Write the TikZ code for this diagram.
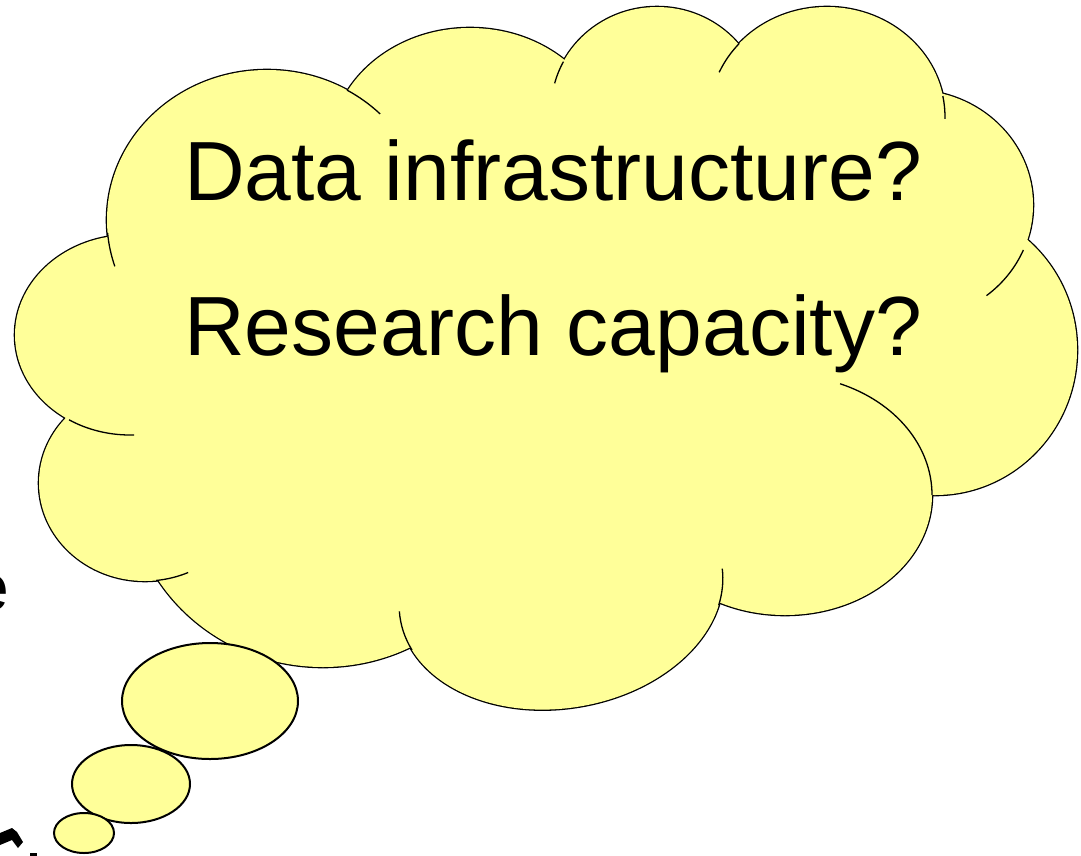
\documentclass[tikz,border=0pt]{standalone}
\usepackage{fontspec}
\setmainfont{Liberation Sans}
\definecolor{cloudyellow}{HTML}{FFFF99}
\tikzset{
  lobeedge/.style={draw=black, line width=2.6pt},
  lobefill/.style={fill=cloudyellow},
  crease/.style={draw=black, line width=1.3pt},
  bubble/.style={fill=cloudyellow, draw=black, line width=2pt},
  caption/.style={anchor=base west, inner sep=0pt, font=\fontsize{84}{100}\selectfont},
  fragtext/.style={anchor=base west, inner sep=0pt, font=\fontsize{66}{80}\selectfont}
}
\begin{document}
\begin{tikzpicture}[x=1pt,y=-1pt]
\useasboundingbox (0,0) rectangle (1081,855);
\clip (0,0) rectangle (1081,855);
% fragments of background text
\node[fragtext] (frag) at (-28,610) {e};
\fill (0,833) -- (12,828) -- (17,832) -- (23,842) -- (18,848) -- (12,840) -- (0,845) -- cycle;
\fill (30,853) rectangle (37,856);
% cloud: outline pass
\foreach \cx/\cy/\rx/\ry in {267/220/160/150, 470/150/140/122, 657/110/106/103, 827/117/118/110, 912/205/121/115, 935/350/142/145, 785/495/147/120, 323/480/195/187, 145/483/106/98, 130/335/115/100}
  \draw[lobeedge] (\cx,\cy) ellipse ({\rx} and {\ry});
\draw[lobeedge, rotate around={9.7:(561,592)}] (561,592) ellipse (163 and 116);
% cloud: fill pass
\foreach \cx/\cy/\rx/\ry in {267/220/160/150, 470/150/140/122, 657/110/106/103, 827/117/118/110, 912/205/121/115, 935/350/142/145, 785/495/147/120, 323/480/195/187, 145/483/106/98, 130/335/115/100}
  \fill[lobefill] (\cx,\cy) ellipse ({\rx} and {\ry});
\fill[lobefill, rotate around={9.7:(561,592)}] (561,592) ellipse (163 and 116);
\fill[lobefill] (267,220) -- (470,150) -- (657,110) -- (827,117) -- (912,205) -- (935,350) -- (785,495) -- (561,592) -- (323,480) -- (145,483) -- (130,335) -- cycle;
% creases
\draw[crease] (267,220) ++(-60:160 and 150) arc[start angle=-60, end angle=-45, x radius=160, y radius=150];
\draw[crease] (267,220) ++(175:160 and 150) arc[start angle=175, end angle=162, x radius=160, y radius=150];
\draw[crease] (657,110) ++(208:106 and 103) arc[start angle=208, end angle=195, x radius=106, y radius=103];
\draw[crease] (827,117) ++(222:118 and 110) arc[start angle=222, end angle=204, x radius=118, y radius=110];
\draw[crease] (827,117) ++(-11:118 and 110) arc[start angle=-11, end angle=1, x radius=118, y radius=110];
\draw[crease] (912,205) ++(23:121 and 115) arc[start angle=23, end angle=52, x radius=121, y radius=115];
\draw[crease] (785,495) ++(-68:147 and 120) arc[start angle=-68, end angle=0, x radius=147, y radius=120];
\begin{scope}[rotate around={9.7:(561,592)}]
\draw[crease] (561,592) ++(184:163 and 116) arc[start angle=184, end angle=164, x radius=163, y radius=116];
\draw[crease] (561,592) ++(20:163 and 116) arc[start angle=20, end angle=2, x radius=163, y radius=116];
\end{scope}
\draw[crease] (145,483) ++(84:106 and 98) arc[start angle=84, end angle=66, x radius=106, y radius=98];
\draw[crease] (130,335) ++(122:115 and 100) arc[start angle=122, end angle=88, x radius=115, y radius=100];
% text
\node[caption] (q1) at (184,200) {Data infrastructure?};
\node[caption] (q2) at (184,355) {Research capacity?};
% thought bubbles
\draw[bubble] (210,701) ellipse (88 and 58);
\draw[bubble] (131,784) ellipse (59 and 39);
\draw[bubble] (84,833) ellipse (30 and 20);
\end{tikzpicture}
\end{document}
